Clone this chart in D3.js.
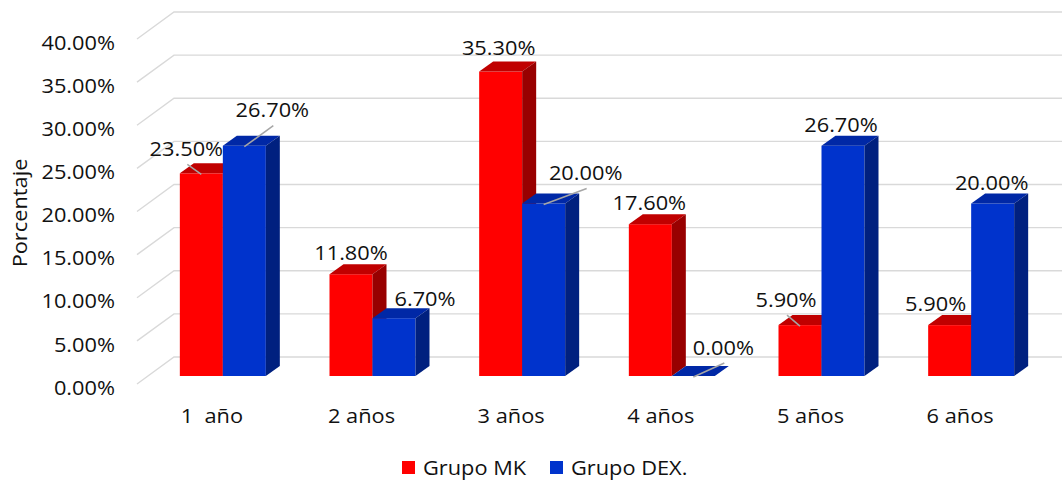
<!DOCTYPE html>
<html>
<head>
<meta charset="utf-8">
<script src="https://cdn.jsdelivr.net/npm/d3@7/dist/d3.min.js"></script>
<style>
  html, body { margin: 0; padding: 0; background: #fff; }
  svg { display: block; }
  text { font-family: "Open Sans", "Noto Sans", sans-serif; fill: #111; white-space: pre; }
</style>
</head>
<body>
<svg id="chart" width="1062" height="481"></svg>
<script>
// Categories, series and axis ticks
const categories = ["1  año", "2 años", "3 años", "4 años", "5 años", "6 años"];
const seriesNames = ["Grupo MK", "Grupo DEX."];
const grupoMK  = [23.5, 11.8, 35.3, 17.6, 5.9, 5.9];
const grupoDEX = [26.7, 6.7, 20.0, 0.0, 26.7, 20.0];
const yTicks = [0, 5, 10, 15, 20, 25, 30, 35, 40];

// Label nudges (dx, dy from the bar's top-front centre) and leader-line flags
const mkLabelShift  = [[-15, -25], [0, -22], [-2, -24], [-1, -22], [-14, -26], [-14, -22]];
const dexLabelShift = [[28, -36], [31, -20], [42, -31], [30, -29], [-2, -21], [-1, -21]];
const mkLeader  = [true, false, false, false, true, false];
const dexLeader = [true, false, true, true, false, false];

const W = 1062, H = 481;
const svg = d3.select("#chart");

const colors = {
  mk:  { front: "#ff0000", top: "#c00000", side: "#980000" },
  dex: { front: "#0033cc", top: "#0028a6", side: "#00207f" }
};

// Pseudo-3D geometry: floor depth vector and bar placement within it
const depth = { dx: 37, dy: -27 };
const barOffset = { dx: 11, dy: -8 };   // front face of bars sits partway into the floor
const barDepth = { dx: 14, dy: -10 };
const barWidth = 43;
const fontSize = 20;
const fontScaleX = 1.09;

const y = d3.scaleLinear().domain([0, 40]).range([384, 39]);
const x = d3.scaleBand().domain(categories).range([137, 1035]);

const fmt = v => d3.format(".2f")(v) + "%";

function addText(g, str, tx, ty, anchor) {
  return g.append("text")
    .attr("transform", `translate(${tx},${ty}) scale(${fontScaleX},1)`)
    .attr("text-anchor", anchor)
    .attr("dominant-baseline", "central")
    .style("font-size", fontSize + "px")
    .text(str);
}

// Gridlines: diagonal floor/side stub plus the back-wall horizontal
const grid = svg.append("g").attr("stroke", "#d9d9d9").attr("stroke-width", 1.4).attr("fill", "none");
yTicks.forEach(t => {
  const x0 = x.range()[0], y0 = y(t);
  grid.append("path")
    .attr("d", `M${x0},${y0} L${x0 + depth.dx},${y0 + depth.dy} L${W},${y0 + depth.dy}`);
});

// Y tick labels
const yAxisG = svg.append("g");
yTicks.forEach(t => addText(yAxisG, fmt(t), 115, y(t) + 3, "end"));

// Y axis title
svg.append("text")
  .attr("transform", `translate(19,213) rotate(-90) scale(${fontScaleX},1)`)
  .attr("text-anchor", "middle")
  .attr("dominant-baseline", "central")
  .style("font-size", fontSize + "px")
  .text("Porcentaje");

// Category labels
const xAxisG = svg.append("g");
categories.forEach(c => addText(xAxisG, c, x(c) + x.bandwidth() / 2, 415, "middle"));

// Bars
const barsG = svg.append("g");
function drawBar(x0, v, col) {
  const yb = y(0) + barOffset.dy;
  const yt = y(v) + barOffset.dy;
  const x1 = x0 + barWidth;
  const ddx = barDepth.dx, ddy = barDepth.dy;
  barsG.append("rect").attr("x", x0).attr("y", yt).attr("width", barWidth).attr("height", yb - yt).attr("fill", col.front);
  barsG.append("path").attr("d", `M${x0},${yt} L${x1},${yt} L${x1 + ddx},${yt + ddy} L${x0 + ddx},${yt + ddy} Z`).attr("fill", col.top);
  barsG.append("path").attr("d", `M${x1},${yt} L${x1 + ddx},${yt + ddy} L${x1 + ddx},${yb + ddy} L${x1},${yb} Z`).attr("fill", col.side);
}

const labelsG = svg.append("g");
const leadersG = svg.append("g").attr("stroke", "#a6a6a6").attr("stroke-width", 1.5);

categories.forEach((c, i) => {
  const gc = x(c) + x.bandwidth() / 2 + barOffset.dx;
  const xs = [gc - barWidth, gc];
  const vals = [grupoMK[i], grupoDEX[i]];
  const cols = [colors.mk, colors.dex];
  const shifts = [mkLabelShift[i], dexLabelShift[i]];
  const leaders = [mkLeader[i], dexLeader[i]];
  vals.forEach((v, k) => drawBar(xs[k], v, cols[k]));
  vals.forEach((v, k) => {
    const bx = xs[k] + barWidth / 2;
    const by = y(v) + barOffset.dy;
    const lx = bx + shifts[k][0], ly = by + shifts[k][1];
    if (leaders[k]) {
      leadersG.append("line").attr("x1", bx).attr("y1", by + 1).attr("x2", lx + 1).attr("y2", ly + 16);
    }
    addText(labelsG, fmt(v), lx, ly, "middle");
  });
});

// Legend
const legend = svg.append("g");
const legendItems = [
  { name: seriesNames[0], color: colors.mk.front, x: 402 },
  { name: seriesNames[1], color: colors.dex.front, x: 550 }
];
legendItems.forEach(it => {
  legend.append("rect").attr("x", it.x).attr("y", 461).attr("width", 13).attr("height", 13).attr("fill", it.color);
  addText(legend, it.name, it.x + 21, 467, "start");
});
</script>
</body>
</html>
